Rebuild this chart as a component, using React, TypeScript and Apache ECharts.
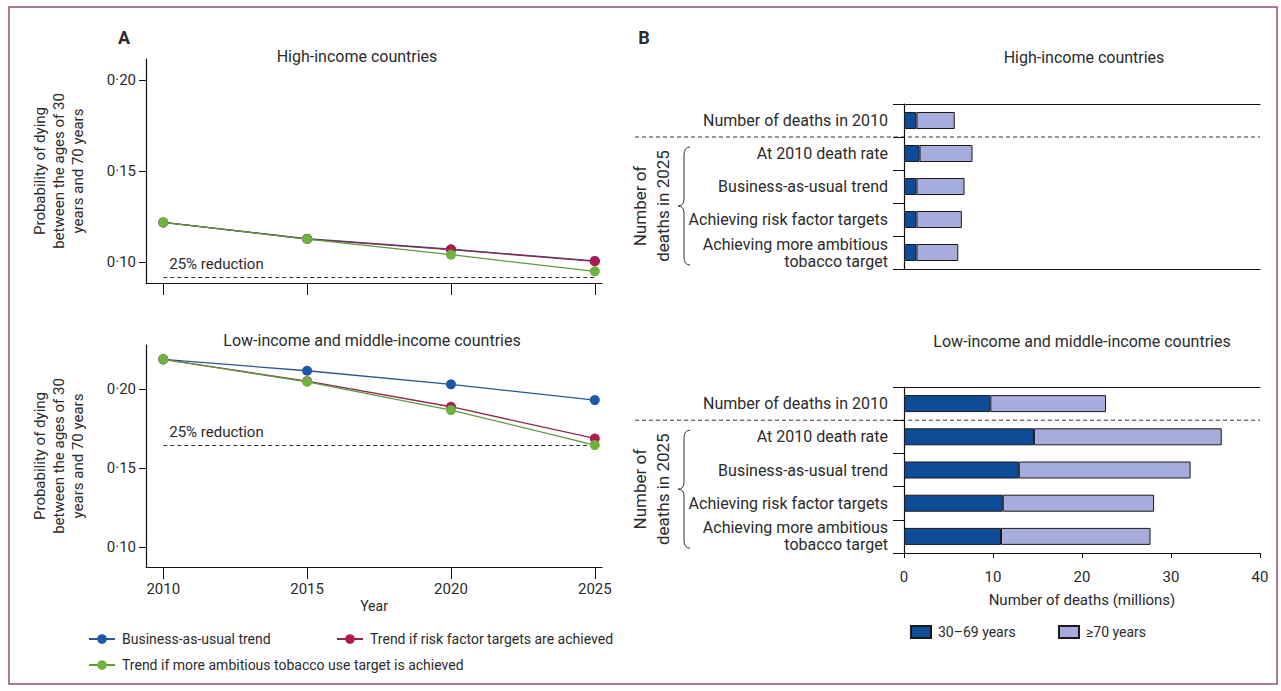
import React, { useEffect, useRef } from 'react';
import * as echarts from 'echarts';

// ---------- data ----------
const years = [2010, 2015, 2020, 2025];
const hicBAU = [0.1219, 0.113, 0.1072, 0.1008];
const hicRisk = [0.1219, 0.1128, 0.107, 0.1006];
const hicTobacco = [0.1219, 0.1128, 0.1042, 0.0951];
const hicTarget = 0.0916;
const lmicBAU = [0.2188, 0.2116, 0.203, 0.193];
const lmicRisk = [0.2188, 0.205, 0.1888, 0.1687];
const lmicTobacco = [0.2188, 0.2046, 0.1867, 0.1645];
const lmicTarget = 0.1645;
const probTicks = [0.1, 0.15, 0.2];

const barCategories = [
  'Number of deaths in 2010',
  'At 2010 death rate',
  'Business-as-usual trend',
  'Achieving risk factor targets',
  'Achieving more ambitious tobacco target',
];
const hicYoung = [1.4, 1.75, 1.4, 1.4, 1.4];
const hicOld = [4.3, 5.95, 5.4, 5.1, 4.7];
const lmicYoung = [9.7, 14.6, 12.9, 11.1, 10.9];
const lmicOld = [13.0, 21.1, 19.3, 17.0, 16.8];

const lineNames = [
  'Business-as-usual trend',
  'Trend if risk factor targets are achieved',
  'Trend if more ambitious tobacco use target is achieved',
];
const barNames = ['30–69 years', '≥70 years'];

// ---------- style ----------
const FONT = 'Roboto, "Noto Sans", sans-serif';
const TXT = '#2b2b2b';
const AX = '#111';
const markerColors = ['#1b5aa6', '#b01a4f', '#6cb43f'];
const lineColors = ['#2a5793', '#8e2a48', '#5e9a3a'];
const barColors = ['#0f4c97', '#a6acdb'];

const braceD = 'M12 0 Q6 0 6 8 L6 52 Q6 59 0 59 Q6 59 6 66 L6 110 Q6 118 12 118';
echarts.graphic.registerShape('brace', echarts.graphic.extendPath(braceD, {}));

const fmtProb = (v: number) => v.toFixed(2).replace('.', '·');
const fmtCat = (v: string) => v.replace('ambitious ', 'ambitious\n');

const LG = [
  { left: 146, top: 59, width: 456, height: 224 },
  { left: 146, top: 345, width: 456, height: 222 },
];
const RG = [
  { left: 904, top: 104, width: 356, height: 165 },
  { left: 904, top: 387, width: 356, height: 166 },
];

export default function App() {
  const ref = useRef<HTMLDivElement>(null);
  useEffect(() => {
    const el = ref.current!;
    const chart = echarts.init(el, null, { renderer: 'svg' });

    const lineSets = [
      [hicBAU, hicRisk, hicTobacco],
      [lmicBAU, lmicRisk, lmicTobacco],
    ];
    const targets = [hicTarget, lmicTarget];

    const lineSeries: any[] = [];
    lineSets.forEach((set, gi) => {
      set.forEach((vals, si) => {
        const s: any = {
          type: 'line',
          name: lineNames[si],
          xAxisIndex: gi,
          yAxisIndex: gi,
          data: years.map((y, i) => [y, vals[i]]),
          symbol: 'circle',
          symbolSize: 10,
          itemStyle: { color: markerColors[si] },
          lineStyle: { color: lineColors[si], width: 1.3 },
          z: 3 + si,
        };
        if (si === 2) {
          s.markLine = {
            silent: true,
            symbol: 'none',
            lineStyle: { type: [4, 3], color: '#333', width: 1 },
            label: {
              formatter: '25% reduction',
              position: 'insideStartTop',
              color: TXT,
              fontSize: 15,
              fontFamily: FONT,
              distance: 6,
            },
            data: [[{ coord: [years[0], targets[gi]] }, { coord: [years[3], targets[gi]] }]],
          };
        }
        lineSeries.push(s);
      });
    });

    const barSets = [
      [hicYoung, hicOld],
      [lmicYoung, lmicOld],
    ];
    const barSeries: any[] = [];
    barSets.forEach((set, gi) => {
      set.forEach((vals, si) => {
        barSeries.push({
          type: 'bar',
          name: barNames[si],
          xAxisIndex: 2 + gi,
          yAxisIndex: 2 + gi,
          stack: 'deaths' + gi,
          data: vals,
          barWidth: 17,
          itemStyle: { color: barColors[si], borderColor: '#1a1a1a', borderWidth: 1 },
        });
      });
    });

    const yName = 'Probability of dying\nbetween the ages of 30\nyears and 70 years';
    const probY = (gi: number, min: number, max: number) => ({
      type: 'value',
      gridIndex: gi,
      min,
      max,
      axisLine: { show: true, lineStyle: { color: AX, width: 1.2 } },
      axisTick: { show: true, customValues: probTicks, length: 7, lineStyle: { color: AX } },
      axisLabel: { customValues: probTicks, formatter: fmtProb, fontSize: 15, color: TXT, margin: 10, fontFamily: FONT },
      splitLine: { show: false },
      name: yName,
      nameLocation: 'middle',
      nameGap: 59,
      nameRotate: 90,
      nameTextStyle: { fontSize: 15, lineHeight: 19, color: TXT, align: 'center', fontFamily: FONT },
    });
    const yearX = (gi: number, labels: boolean) => ({
      type: 'value',
      gridIndex: gi,
      min: 2009.4,
      max: 2025.25,
      axisLine: { show: true, lineStyle: { color: AX, width: 1.2 } },
      axisTick: { show: true, customValues: years, length: 12, lineStyle: { color: AX } },
      axisLabel: {
        show: labels,
        customValues: years,
        formatter: (v: number) => String(v),
        fontSize: 15,
        color: TXT,
        margin: 14,
        fontFamily: FONT,
      },
      splitLine: { show: false },
      ...(labels
        ? { name: 'Year', nameLocation: 'middle', nameGap: 32, nameTextStyle: { fontSize: 14, color: TXT, fontFamily: FONT } }
        : {}),
    });
    const deathX = (gi: number, labels: boolean) => ({
      type: 'value',
      gridIndex: gi,
      min: 0,
      max: 40,
      interval: 10,
      axisLine: { show: true, lineStyle: { color: AX, width: 1.2 } },
      axisTick: { show: labels, length: 5, lineStyle: { color: AX } },
      axisLabel: { show: labels, fontSize: 15, color: TXT, margin: 16, fontFamily: FONT },
      splitLine: { show: false },
      ...(labels
        ? {
            name: 'Number of deaths (millions)',
            nameLocation: 'middle',
            nameGap: 39,
            nameTextStyle: { fontSize: 15, color: TXT, fontFamily: FONT },
          }
        : {}),
    });
    const topLine = (gi: number) => ({
      type: 'value',
      gridIndex: gi,
      position: 'top',
      min: 0,
      max: 40,
      axisLine: { show: true, lineStyle: { color: AX, width: 1.2 } },
      axisTick: { show: false },
      axisLabel: { show: false },
      splitLine: { show: false },
    });
    const catY = (gi: number) => ({
      type: 'category',
      gridIndex: gi,
      inverse: true,
      data: barCategories,
      axisLine: { show: true, lineStyle: { color: AX, width: 1.2 } },
      axisTick: { show: true, length: 11, lineStyle: { color: AX } },
      axisLabel: { formatter: fmtCat, fontSize: 16, lineHeight: 17, color: TXT, margin: 16, fontFamily: FONT, align: 'right' },
    });

    const sep = (gi: number) => {
      const g = RG[gi];
      const y = g.top + g.height / barCategories.length;
      return {
        type: 'line',
        shape: { x1: 635, y1: y, x2: g.left + g.width, y2: y },
        style: { stroke: '#333', lineWidth: 1, lineDash: [4, 3] },
      };
    };
    const brace = (gi: number) => {
      const g = RG[gi];
      const band = g.height / barCategories.length;
      return { type: 'brace', x: 678, y: g.top + band + 10, style: { fill: 'none', stroke: '#333', lineWidth: 1 } };
    };
    const braceText = (gi: number) => {
      const g = RG[gi];
      const band = g.height / barCategories.length;
      return {
        type: 'text',
        x: 651,
        y: g.top + band + 69,
        rotation: Math.PI / 2,
        style: {
          text: 'Number of\ndeaths in 2025',
          fontSize: 17,
          lineHeight: 23,
          fill: TXT,
          fontFamily: FONT,
          align: 'center',
          verticalAlign: 'middle',
        },
      };
    };
    const label = (text: string, x: number, y: number, size: number, bold = false) => ({
      type: 'text',
      x,
      y,
      style: {
        text,
        fontSize: size,
        fontWeight: bold ? 'bold' : 'normal',
        fill: TXT,
        fontFamily: FONT,
        align: 'center',
        verticalAlign: 'middle',
      },
    });

    const option: any = {
      animation: false,
      backgroundColor: '#fff',
      textStyle: { fontFamily: FONT },
      grid: [...LG, ...RG],
      xAxis: [yearX(0, false), yearX(1, true), deathX(2, false), deathX(3, true), topLine(2), topLine(3)],
      yAxis: [probY(0, 0.0887, 0.2115), probY(1, 0.0873, 0.2279), catY(2), catY(3)],
      legend: [
        { data: [lineNames[0]], left: 83, top: 627 },
        { data: [lineNames[1]], left: 331, top: 627 },
        { data: [lineNames[2]], left: 83, top: 653 },
        { data: [barNames[0]], left: 905, top: 620, icon: 'rect', itemWidth: 20, itemHeight: 12 },
        { data: [barNames[1]], left: 1053, top: 620, icon: 'rect', itemWidth: 20, itemHeight: 12 },
      ].map((l: any) => ({
        itemWidth: 26,
        itemHeight: 12,
        itemGap: 0,
        selectedMode: false,
        textStyle: { fontSize: 14, color: TXT, fontFamily: FONT, padding: [0, 0, 0, 2] },
        ...l,
      })),
      series: [...lineSeries, ...barSeries],
      graphic: [
        {
          type: 'rect',
          shape: { x: 9, y: 7, width: 1268, height: 677 },
          style: { fill: 'none', stroke: '#8d4f78', lineWidth: 1.5 },
        },
        label('A', 124, 37, 18, true),
        label('B', 644, 37, 18, true),
        label('High-income countries', 357, 56, 16),
        label('Low-income and middle-income countries', 372, 340, 16),
        label('High-income countries', 1084, 57, 16),
        label('Low-income and middle-income countries', 1082, 341, 16),
        sep(0),
        sep(1),
        brace(0),
        brace(1),
        braceText(0),
        braceText(1),
      ],
    };
    chart.setOption(option);
    return () => chart.dispose();
  }, []);
  return (
    <div
      ref={ref}
      style={{ position: 'fixed', left: 0, top: 0, width: 1281, height: 691, background: '#fff' }}
    />
  );
}
